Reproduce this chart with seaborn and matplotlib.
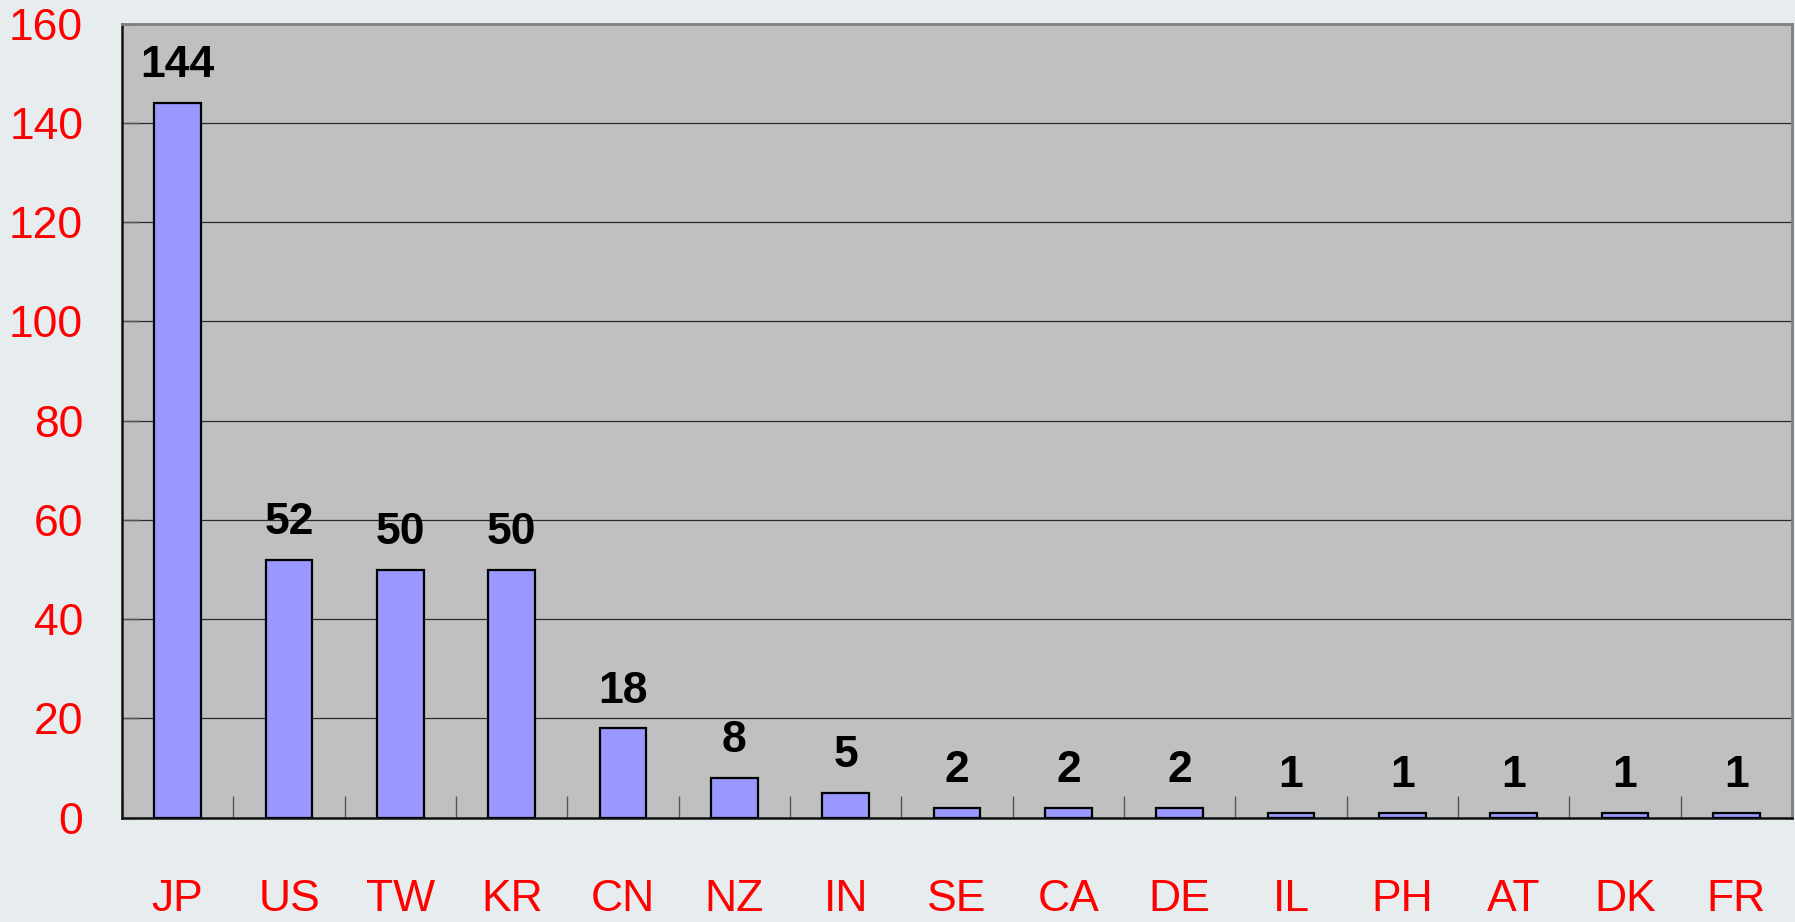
import numpy as np
import matplotlib
matplotlib.use("Agg")
import matplotlib.pyplot as plt
import seaborn as sns

countries = ["JP", "US", "TW", "KR", "CN", "NZ", "IN", "SE", "CA", "DE", "IL", "PH", "AT", "DK", "FR"]
counts = [144, 52, 50, 50, 18, 8, 5, 2, 2, 2, 1, 1, 1, 1, 1]
yticks = [0, 20, 40, 60, 80, 100, 120, 140, 160]

sns.set_theme(style="white")
plt.rcParams['font.family'] = ['Liberation Sans', 'DejaVu Sans']

fig = plt.figure(figsize=(17.95, 9.22), dpi=100)
fig.patch.set_facecolor("#e7ecef")
ax = fig.add_axes([0.068, 0.1131, 0.9303, 0.8614])
ax.set_facecolor("#c0c0c0")

sns.barplot(x=countries, y=counts, color="#9999ff", edgecolor="black",
            linewidth=1.6, width=0.42, saturation=1, ax=ax, zorder=3)

ax.set_xlim(-0.5, len(countries) - 0.5)
ax.set_ylim(0, 160)
ax.set_yticks(yticks)
ax.yaxis.grid(True, color="#2a2a2a", linewidth=0.9, zorder=0)
ax.set_axisbelow(True)

ax.tick_params(axis="y", left=True, direction="in", length=12, color="#555555", width=1,
               labelcolor="red", labelsize=32, pad=28)
ax.tick_params(axis="x", which="major", bottom=True, length=0, labelcolor="red", labelsize=32, pad=44)
ax.set_xticks(np.arange(-0.5, len(countries), 1), minor=True)
ax.tick_params(axis="x", which="minor", bottom=True, direction="in", length=16, color="#555555", width=1)

for s in ["left", "bottom"]:
    ax.spines[s].set_color("#111111")
    ax.spines[s].set_linewidth(1.8)
for s in ["top", "right"]:
    ax.spines[s].set_color("#808080")
    ax.spines[s].set_linewidth(2)
    ax.spines[s].set_visible(True)

for i, v in enumerate(counts):
    ax.annotate(str(v), xy=(i, v), xytext=(0, 12), textcoords="offset points",
                ha="center", va="bottom", fontsize=32, fontweight="bold", color="black")

ax.set_xlabel("")
ax.set_ylabel("")
fig.savefig("out.png", dpi=100, facecolor=fig.get_facecolor())
